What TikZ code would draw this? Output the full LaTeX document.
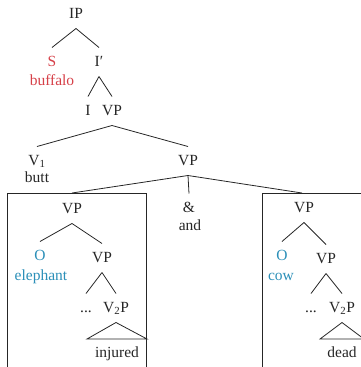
\documentclass[tikz,border=0pt]{standalone}
\usepackage{fontspec}
\setmainfont{Liberation Serif}
\definecolor{subjred}{RGB}{214,64,72}
\definecolor{objblue}{RGB}{43,143,184}
\tikzset{
  tn/.style={anchor=base, inner sep=0pt, text height=11pt, text depth=3pt,
             outer xsep=0pt, outer ysep=7.5pt, font=\fontsize{15.5}{18}\selectfont, text=black!85},
  gloss/.style={anchor=base, inner sep=0pt, font=\fontsize{15.5}{18}\selectfont, text=black!85},
  subj/.style={text=subjred},
  obj/.style={text=objblue},
  edge/.style={draw=black!85, line width=0.8pt},
  frame/.style={draw=black!85, line width=0.8pt}
}
\begin{document}
\begin{tikzpicture}[x=1pt, y=-1pt]
\useasboundingbox (0,0) rectangle (361,367);
\clip (0,0) rectangle (361,367);

% upper tree
\node[tn] (ip) at (76,18) {IP};
\node[tn, subj] (s) at (52,66) {S};
\node[gloss, subj] (buffalo) at (52,85) {buffalo};
\node[tn] (ibar) at (99,66) {I′};
\node[tn] (i) at (88,115) {I};
\node[tn] (vp1) at (112,115) {VP};
\node[tn] (v1) at (37,165) {V\textsubscript{1}};
\node[gloss] (butt) at (37,182) {butt};
\node[tn] (vpc) at (188,165) {VP};
\node[tn] (amp) at (189,212) {\&};
\node[gloss] (and) at (190,230) {and};

\draw[edge] (ip.south) -- (s.north);
\draw[edge] (ip.south) -- (ibar.north);
\draw[edge] (ibar.south) -- (i.north);
\draw[edge] (ibar.south) -- (vp1.north);
\draw[edge] (vp1.south) -- (v1.north);
\draw[edge] (vp1.south) -- (vpc.north);
\draw[edge] (vpc.south) -- (amp.north);

% framed conjuncts, open towards the bottom
\draw[frame] (7,400) |- (146,193) -- (146,400);
\draw[frame] (262,400) |- (420,193);
\coordinate (ltop) at (72,193);
\coordinate (rtop) at (302,193);
\draw[edge] (vpc.south) -- (ltop);
\draw[edge] (vpc.south) -- (rtop);

% left conjunct
\node[tn] (lvp) at (72,213) {VP};
\node[tn, obj] (lo) at (40,260) {O};
\node[gloss, obj] (eleph) at (41,280) {elephant};
\node[tn] (lvp2) at (102,262) {VP};
\node[tn] (ldots) at (86,312) {...};
\node[tn] (lv2p) at (116,312) {V\textsubscript{2}P};
\node[gloss] (injured) at (117,357) {injured};
\coordinate (ltl) at (87,339);
\coordinate (ltr) at (147,339);
\draw[edge] (lvp.south) -- (lo.north);
\draw[edge] (lvp.south) -- (lvp2.north);
\draw[edge] (lvp2.south) -- (ldots.north);
\draw[edge] (lvp2.south) -- (lv2p.north);
\draw[edge] (ltl) -- (lv2p.south) -- (ltr) -- cycle;

% right conjunct
\node[tn] (rvp) at (304,212) {VP};
\node[tn, obj] (ro) at (282,260) {O};
\node[gloss, obj] (cow) at (281,280) {cow};
\node[tn] (rvp2) at (326,263) {VP};
\node[tn] (rdots) at (311,312) {...};
\node[tn] (rv2p) at (342,312) {V\textsubscript{2}P};
\node[gloss] (dead) at (342,357) {dead};
\coordinate (rtl) at (320,339);
\coordinate (rtr) at (364,339);
\draw[edge] (rvp.south) -- (ro.north);
\draw[edge] (rvp.south) -- (rvp2.north);
\draw[edge] (rvp2.south) -- (rdots.north);
\draw[edge] (rvp2.south) -- (rv2p.north);
\draw[edge] (rtl) -- (rv2p.south) -- (rtr) -- cycle;
\end{tikzpicture}
\end{document}
